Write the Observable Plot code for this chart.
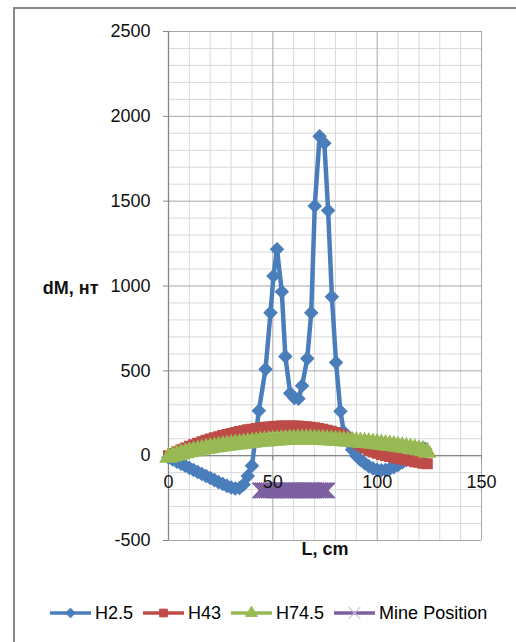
<!DOCTYPE html>
<html>
<head>
<meta charset="utf-8">
<script src="https://cdn.jsdelivr.net/npm/d3@7"></script>
<script src="https://cdn.jsdelivr.net/npm/@observablehq/plot@0.6"></script>
<style>
  html, body { margin: 0; padding: 0; background: #fff; }
  body { width: 516px; height: 642px; position: relative; overflow: hidden; font-family: "Liberation Sans", Arial, sans-serif; }
  #frame { position: absolute; left: 13px; top: 7px; width: 700px; height: 800px; border-left: 2px solid #878787; border-top: 2px solid #878787; }
  #chart { position: absolute; left: 0; top: 0; }
  #legend { position: absolute; left: 50px; top: 603px; height: 20px; display: flex; align-items: center; gap: 10px; font-size: 18px; color: #000; }
  .item { display: flex; align-items: center; gap: 4px; }
</style>
</head>
<body>
<div id="frame"></div>
<div id="chart"></div>
<div id="legend"></div>
<script>
// ---- data ----
const seriesNames = ["H2.5", "H43", "H74.5", "Mine Position"];
const seriesColors = ["#4A7EBB", "#BE4B48", "#98B954", "#7D60A0"];

const xTicks = [0, 50, 100, 150];
const yTicks = [-500, 0, 500, 1000, 1500, 2000, 2500];
const xMinor = [10, 20, 30, 40, 60, 70, 80, 90, 110, 120, 130, 140];
const yMinor = [-400, -300, -200, -100, 100, 200, 300, 400, 600, 700, 800, 900, 1100, 1200, 1300, 1400, 1600, 1700, 1800, 1900, 2100, 2200, 2300, 2400];

const blueL = [0,2,4,6,8,10,12,14,16,18,20,22,24,26,28,30,32,34,36,38,40,
  43.3,46.5,48.9,50.3,52,54.3,56,58.3,60.3,62.3,64,66.5,68.4,70.1,72.4,74.7,76.5,78.3,80.3,82.4,
  84,86,88,90,92,94,96,98,100,102,104,106,108,110,112,114,116,118,120,122,123];
const blueV = [-10,-22,-35,-47,-60,-72,-84,-96,-108,-120,-132,-144,-156,-167,-178,-187,-193,-190,-170,-120,-59,
  265,510,843,1059,1216,966,585,368,340,335,412,572,843,1472,1882,1841,1445,936,549,262,
  140,80,35,0,-25,-45,-62,-75,-83,-86,-84,-78,-68,-55,-40,-25,-10,15,35,45,40];

const gridL = [0,2,4,6,8,10,12,14,16,18,20,22,24,26,28,30,32,34,36,38,40,42,44,46,48,50,52,54,56,58,60,
  62,64,66,68,70,72,74,76,78,80,82,84,86,88,90,92,94,96,98,100,102,104,106,108,110,112,114,116,118,120,122,124];
const redV = [0,12,23,34,45,55,64,73,82,90,98,105,112,119,125,131,137,142,147,152,156,160,163,166,169,171,173,174,175,175,175,
  174,172,170,167,164,160,155,150,144,137,128,117,104,90,75,60,45,32,22,14,7,1,-5,-11,-16,-21,-26,-30,-35,-39,-44,-48];
const greenV = [-10,-3,4,10,16,22,27,32,37,42,46,50,54,58,61,64,67,70,73,76,79,81,84,86,88,90,92,94,95,96,97,
  98,98,98,98,97,96,95,94,92,91,89,87,85,83,81,79,77,75,73,70,67,64,61,58,55,51,47,43,39,34,28,20];

const mineL = [44,45,46,47,48,49,50,51,52,53,54,55,56,57,58,59,60,61,62,63,64,65,66,67,68,69,70,71,72,73,74,75,76];
const mineV = [-205,-205,-205,-205,-205,-205,-205,-205,-205,-205,-205,-205,-205,-205,-205,-205,-205,-205,-205,-205,-205,-205,-205,-205,-205,-205,-205,-205,-205,-205,-205,-205,-205];

const yTitle = "dM, нт";
const xTitle = "L, cm";

// ---- tables ----
const blue = blueL.map((L, i) => ({L, V: blueV[i]}));
const red = gridL.map((L, i) => ({L, V: redV[i]}));
const green = gridL.map((L, i) => ({L, V: greenV[i]}));
const mine = mineL.map((L, i) => ({L, V: mineV[i]}));

const font = "Liberation Sans, Arial, sans-serif";
const minorC = "#d9d9d9", majorC = "#a6a6a6", axisC = "#868686";

const chart = Plot.plot({
  width: 516,
  height: 580,
  marginLeft: 168,
  marginRight: 35,
  marginTop: 31,
  marginBottom: 40,
  x: {domain: [0, 150], axis: null},
  y: {domain: [-500, 2500], axis: null},
  style: {background: "transparent", fontFamily: font, overflow: "visible"},
  marks: [
    Plot.ruleX(xMinor, {stroke: minorC, strokeWidth: 1}),
    Plot.ruleY(yMinor, {stroke: minorC, strokeWidth: 1}),
    Plot.ruleX(xTicks, {stroke: majorC, strokeWidth: 1}),
    Plot.ruleY(yTicks, {stroke: majorC, strokeWidth: 1}),
    Plot.ruleX([0], {stroke: axisC, strokeWidth: 1.3}),
    Plot.ruleY([0], {stroke: axisC, strokeWidth: 1.3}),
    Plot.ruleY(yTicks, {x1: 0, x2: -2.4, stroke: axisC}),
    Plot.ruleX(xTicks, {y1: 0, y2: -30, stroke: axisC}),
    Plot.text(yTicks, {x: () => 0, y: d => d, dx: -18, textAnchor: "end", text: d => String(d), fontSize: 18, fill: "#111"}),
    Plot.text([yTitle], {frameAnchor: "left", dx: -70, dy: 2, textAnchor: "end", text: d => d, fontSize: 18, fontWeight: "bold", fill: "#111"}),
    Plot.text([xTitle], {frameAnchor: "bottom", dy: 14, text: d => d, fontSize: 18, fontWeight: "bold", fill: "#111"}),
    // H2.5
    Plot.line(blue, {x: "L", y: "V", stroke: seriesColors[0], strokeWidth: 4.5}),
    Plot.dot(blue, {x: "L", y: "V", symbol: "diamond2", r: 5.6, fill: seriesColors[0], stroke: seriesColors[0]}),
    // H43
    Plot.line(red, {x: "L", y: "V", stroke: seriesColors[1], strokeWidth: 4.5}),
    Plot.dot(red, {x: "L", y: "V", symbol: "square", r: 5.4, fill: seriesColors[1], stroke: seriesColors[1]}),
    // H74.5
    Plot.line(green, {x: "L", y: "V", stroke: seriesColors[2], strokeWidth: 4.5}),
    Plot.dot(green, {x: "L", y: "V", symbol: "triangle", r: 6, fill: seriesColors[2], stroke: seriesColors[2]}),
    // Mine position
    Plot.line(mine, {x: "L", y: "V", stroke: seriesColors[3], strokeWidth: 4}),
    Plot.dot(mine, {x: "L", y: "V", symbol: "times", r: 7, stroke: seriesColors[3], strokeWidth: 2}),
    // x tick labels drawn above data
    Plot.text(xTicks, {x: d => d, y: () => 0, dy: 27, text: d => String(d), fontSize: 18, fill: "#111"})
  ]
});
document.getElementById("chart").appendChild(chart);

// ---- legend ----
const symbols = ["diamond2", "square", "triangle", "times"];
const legend = document.getElementById("legend");
seriesNames.forEach((name, i) => {
  const item = document.createElement("div");
  item.className = "item";
  const sym = d3.symbol().type({diamond2: d3.symbolDiamond2, square: d3.symbolSquare, triangle: d3.symbolTriangle, times: d3.symbolTimes}[symbols[i]]).size(i === 3 ? 90 : 60)();
  const filled = i !== 3;
  item.innerHTML = `<svg width="41" height="20" style="display:block"><line x1="0" x2="41" y1="10" y2="10" stroke="${seriesColors[i]}" stroke-width="3.5"/><path d="${sym}" transform="translate(20.5,10)" fill="${filled ? seriesColors[i] : "none"}" stroke="${i === 3 ? "#c9bde0" : seriesColors[i]}" stroke-width="${i === 3 ? 1.2 : 1}"/></svg><span>${name}</span>`;
  legend.appendChild(item);
});
</script>
</body>
</html>
